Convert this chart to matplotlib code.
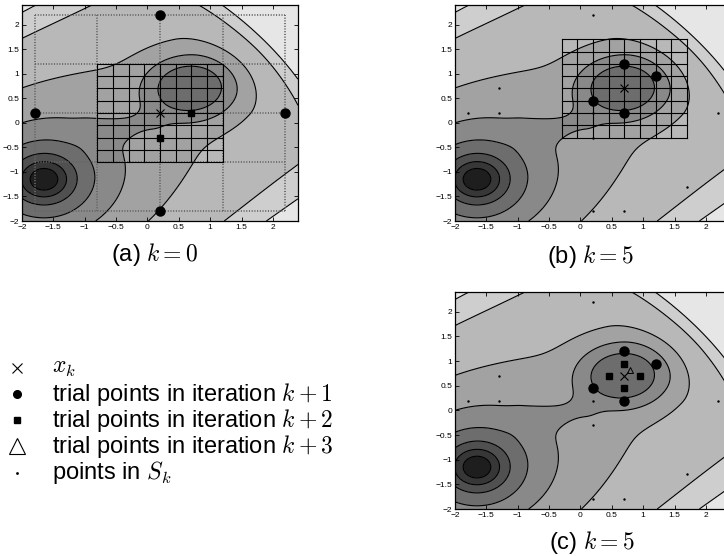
import numpy as np
import matplotlib
matplotlib.use('Agg')
import matplotlib.pyplot as plt

plt.rcParams['font.family'] = ['Liberation Sans', 'DejaVu Sans']
plt.rcParams['mathtext.fontset'] = 'cm'

# surface: deep well (lower left), shallow well (upper right), a valley joining
# them and a base that rises slowly across the line between the minima and
# faster beyond the shallow one
deep_min = (-1.65, -1.15)
deep_floor = 0.005
deep_reach = 3.0
shallow_min = (0.7, 0.72)
shallow_scale = (1.0, 0.9)
shallow_depth = 2.0
shallow_width = 0.566
shallow_power = 1.27
base_center = (-0.475, -0.225)
base_angle = 38.0
base_span = (-1.5, 1.9)
base_weight = 0.14
base_wall = 2.5
channel_start = (-0.85, -0.21)
channel_end = (0.05, 0.02)
channel_depth = 0.38
channel_width = 0.19

# points the contour lines pass through
level_x = [-1.43, -1.29, -1.12, -0.84, -2.0, -2.0, -2.0, -2.0]
level_y = [-1.15, -1.15, -1.15, -1.15, 0.0, 0.71, 1.72, 2.25]
band_greys = ['#1e1e1e', '#373737', '#505050', '#6d6d6d', '#898989',
              '#a2a2a2', '#b8b8b8', '#cecece', '#e6e6e6']

# iterates and trial points
xk = {'a': (0.2, 0.2), 'b': (0.7, 0.7), 'c': (0.7, 0.7)}
trial1_a_x = [0.2, 0.2, -1.8, 2.2]
trial1_a_y = [2.2, -1.8, 0.2, 0.2]
trial2_a_x = [0.7, 0.2]
trial2_a_y = [0.2, -0.3]
trial1_b_x = [0.7, 1.2, 0.2, 0.7]
trial1_b_y = [1.2, 0.95, 0.45, 0.2]
trial2_c_x = [0.7, 0.45, 0.95, 0.7]
trial2_c_y = [0.95, 0.7, 0.7, 0.45]
trial3_c_x = [0.79]
trial3_c_y = [0.81]
sk_x = [-1.8, -1.3, -1.3, 0.2, 0.2, 0.2, 0.7, 1.7, 2.2, 0.2]
sk_y = [0.2, 0.2, 0.7, 0.2, -0.3, -1.8, -1.8, -1.3, 0.2, 2.2]

coarse_lines = [-1.8, -0.8, 0.2, 1.2, 2.2]
fine_a = [-0.8, -0.55, -0.3, -0.05, 0.2, 0.45, 0.7, 0.95, 1.2]
fine_b = [-0.3, -0.05, 0.2, 0.45, 0.7, 0.95, 1.2, 1.45, 1.7]

ticks = [-2, -1.5, -1, -0.5, 0, 0.5, 1, 1.5, 2]
tick_labels = ['\u22122', '\u22121.5', '\u22121', '\u22120.5', '0', '0.5', '1', '1.5', '2']


def seg_dist(x, y, p, q):
    dx, dy = q[0] - p[0], q[1] - p[1]
    t = np.clip(((x - p[0]) * dx + (y - p[1]) * dy) / (dx * dx + dy * dy), 0, 1)
    return np.hypot(x - p[0] - t * dx, y - p[1] - t * dy)


def surface(x, y):
    r1 = (x - deep_min[0])**2 + (y - deep_min[1])**2
    deep = np.log(r1 + deep_floor) - np.log(r1 + deep_reach)
    e2 = ((x - shallow_min[0]) / shallow_scale[0])**2 + ((y - shallow_min[1]) / shallow_scale[1])**2
    shallow = -shallow_depth * np.exp(-(e2 / shallow_width)**shallow_power)
    th = np.radians(base_angle)
    dx, dy = x - base_center[0], y - base_center[1]
    u = dx * np.cos(th) + dy * np.sin(th)
    v = -dx * np.sin(th) + dy * np.cos(th)
    over = np.maximum(u - base_span[1], 0) * base_wall
    under = np.maximum(base_span[0] - u, 0)
    base = base_weight * (v**2 + over**2 + under**2)
    dc = seg_dist(x, y, channel_start, channel_end)
    channel = -channel_depth * np.exp(-dc**2 / (2 * channel_width**2))
    return deep + shallow + base + channel


gx, gy = np.meshgrid(np.linspace(-2, 2.4, 500), np.linspace(-2, 2.4, 500))
gz = surface(gx, gy)
levels = sorted(surface(np.array(level_x), np.array(level_y)))
bounds = [gz.min() - 1] + levels + [gz.max() + 1]

fig = plt.figure(figsize=(7.24, 5.56), dpi=100)
W, H = 724.0, 556.0


def panel(left, top, bottom):
    ax = fig.add_axes([left / W, 1 - bottom / H, 276 / W, (bottom - top) / H])
    ax.contourf(gx, gy, gz, levels=bounds, colors=band_greys)
    ax.contour(gx, gy, gz, levels=levels, colors='black', linewidths=0.8, linestyles='solid')
    ax.set_xlim(-2, 2.4)
    ax.set_ylim(-2, 2.4)
    ax.set_xticks(ticks)
    ax.set_yticks(ticks)
    ax.set_xticklabels(tick_labels)
    ax.set_yticklabels(tick_labels)
    ax.tick_params(direction='in', length=3, width=0.6, labelsize=6, pad=2,
                   top=True, right=True)
    for s in ax.spines.values():
        s.set_linewidth(0.9)
    return ax


def fine_grid(ax, pos):
    for p in pos:
        ax.plot([p, p], [pos[0], pos[-1]], color='black', lw=0.8)
        ax.plot([pos[0], pos[-1]], [p, p], color='black', lw=0.8)


ax_a = panel(22, 5, 221)
for p in coarse_lines:
    ax_a.plot([p, p], [coarse_lines[0], coarse_lines[-1]], color='0.4', lw=1.3, ls=(0, (0.6, 0.9)))
    ax_a.plot([coarse_lines[0], coarse_lines[-1]], [p, p], color='0.4', lw=1.3, ls=(0, (0.6, 0.9)))
fine_grid(ax_a, fine_a)
ax_a.plot(trial1_a_x, trial1_a_y, 'o', color='black', ms=6.5)
ax_a.plot(trial2_a_x, trial2_a_y, 's', color='black', ms=4)
ax_a.plot(*xk['a'], 'x', color='black', ms=6, mew=0.8)

ax_b = panel(455, 5, 221)
fine_grid(ax_b, fine_b)
ax_b.plot(sk_x, sk_y, '.', color='black', ms=1.5)
ax_b.plot(trial1_b_x, trial1_b_y, 'o', color='black', ms=6.5)
ax_b.plot(*xk['b'], 'x', color='black', ms=6, mew=0.8)

ax_c = panel(455, 292, 509)
ax_c.plot(sk_x, sk_y, '.', color='black', ms=1.5)
ax_c.plot(trial1_b_x, trial1_b_y, 'o', color='black', ms=6.5)
ax_c.plot(trial2_c_x, trial2_c_y, 's', color='black', ms=4)
ax_c.plot(trial3_c_x, trial3_c_y, '^', mfc='none', mec='black', ms=4, mew=0.7)
ax_c.plot(*xk['c'], 'x', color='black', ms=6, mew=0.8)

fig.text(155 / W, 1 - 255 / H, '(a) $k = 0$', ha='center', va='center', fontsize=17)
fig.text(590 / W, 1 - 256 / H, '(b) $k = 5$', ha='center', va='center', fontsize=17)
fig.text(592 / W, 1 - 542 / H, '(c) $k = 5$', ha='center', va='center', fontsize=17)

# legend, drawn in pixel units
leg = fig.add_axes([0, 0, 1, 1], zorder=-1)
leg.set_xlim(0, W)
leg.set_ylim(H, 0)
leg.axis('off')
rows = [368, 394, 420, 446, 473]
labels = ['$x_k$', 'trial points in iteration $k+1$', 'trial points in iteration $k+2$',
          'trial points in iteration $k+3$', 'points in $S_k$']
leg.plot(17, rows[0], 'x', color='black', ms=7, mew=0.8)
leg.plot(17, rows[1], 'o', color='black', ms=5.5)
leg.plot(17, rows[2], 's', color='black', ms=5)
leg.plot(17, rows[3], '^', mfc='none', mec='black', ms=12, mew=0.8)
leg.plot(17, rows[4], '.', color='black', ms=2)
for r, t in zip(rows, labels):
    leg.text(52, r, t, ha='left', va='center', fontsize=17)

fig.savefig('out.png', dpi=100)
